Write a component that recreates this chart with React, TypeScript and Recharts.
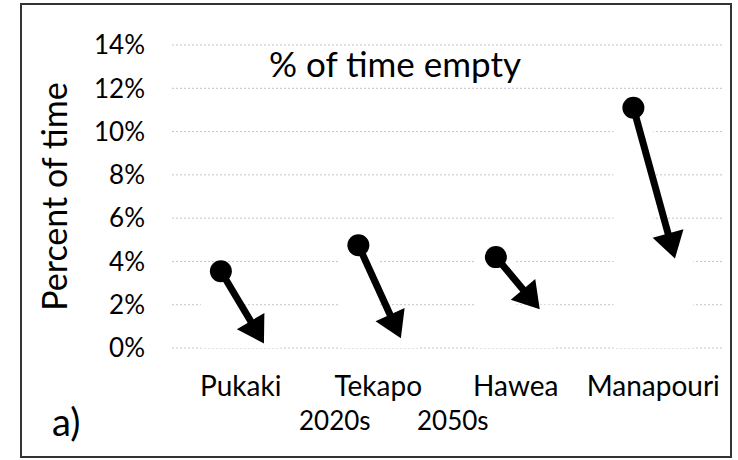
import { BarChart, Bar, XAxis, YAxis, CartesianGrid } from 'recharts'

const LAKES = ['Pukaki', 'Tekapo', 'Hawea', 'Manapouri']
const EMPTY_2020S = [3.55, 4.75, 4.2, 11.1]
const EMPTY_2050S = [0.45, 0.7, 2.0, 4.4]
const PERIODS = ['2020s', '2050s']
const Y_TICKS = [0, 2, 4, 6, 8, 10, 12, 14]

const data = LAKES.map((lake, i) => ({
  lake,
  p2020: EMPTY_2020S[i],
  p2050: EMPTY_2050S[i],
}))

const FONT = 'Lato, "Open Sans", sans-serif'
const yTickStyle = { fill: '#000', fontSize: 26, fontFamily: FONT }
const xTickStyle = { fill: '#000', fontSize: 28, fontFamily: FONT }

// white bar (masks the grid) + filled circle at the 2020s value
function StartShape(props: any) {
  const { x, y, width, height } = props
  return (
    <g>
      <rect x={x} y={y} width={width} height={height} fill="#fff" />
      <circle cx={x + width / 2} cy={y} r={11} fill="#000" />
    </g>
  )
}

// white bar + arrow from the 2020s point (neighbour bar) to the 2050s point
function EndShape(props: any) {
  const { x, y, width, height, payload } = props
  const base = y + height
  const perUnit = height / payload.p2050
  const x0 = x - width / 2
  const y0 = base - payload.p2020 * perUnit
  const x1 = x + width / 2
  const y1 = y
  const dx = x1 - x0
  const dy = y1 - y0
  const len = Math.hypot(dx, dy)
  const ux = dx / len
  const uy = dy / len
  const tipX = x1 + ux * 6
  const tipY = y1 + uy * 6
  const headLen = 26
  const half = 16
  const bx = tipX - ux * headLen
  const by = tipY - uy * headLen
  const px = -uy
  const py = ux
  return (
    <g>
      <rect x={x} y={y} width={width} height={height} fill="#fff" />
      <line x1={x0} y1={y0} x2={bx + ux * 2} y2={by + uy * 2} stroke="#000" strokeWidth={7} />
      <polygon
        points={`${tipX},${tipY} ${bx + px * half},${by + py * half} ${bx - px * half},${by - py * half}`}
        fill="#000"
      />
    </g>
  )
}

export default function App() {
  return (
    <div
      style={{
        position: 'absolute',
        left: 0,
        top: 0,
        width: 738,
        height: 460,
        background: '#fff',
        fontFamily: FONT,
        color: '#000',
      }}
    >
      <div
        style={{
          position: 'absolute',
          left: 20,
          top: 3,
          width: 712,
          height: 455,
          boxSizing: 'border-box',
          border: '2px solid #333',
        }}
      />
      <BarChart
        width={738}
        height={460}
        data={data}
        margin={{ top: 45, right: 16, bottom: 82, left: 20 }}
        barCategoryGap="21%"
        barGap={0}
      >
        <CartesianGrid vertical={false} stroke="#c4c4c4" strokeDasharray="2 2" />
        <XAxis
          dataKey="lake"
          axisLine={false}
          tickLine={false}
          tickMargin={22}
          tick={xTickStyle}
          interval={0}
        />
        <YAxis
          domain={[0, 14]}
          ticks={Y_TICKS}
          interval={0}
          width={152}
          axisLine={false}
          tickLine={false}
          tickMargin={21}
          tick={yTickStyle}
          tickFormatter={(v: number) => `${v}%`}
          label={{
            value: 'Percent of time',
            angle: -90,
            position: 'insideLeft',
            offset: 35,
            style: { textAnchor: 'middle', fontSize: 34, fill: '#000', fontFamily: FONT },
          }}
        />
        <Bar dataKey="p2020" name={PERIODS[0]} shape={StartShape} isAnimationActive={false} />
        <Bar dataKey="p2050" name={PERIODS[1]} shape={EndShape} isAnimationActive={false} />
      </BarChart>
      <div
        style={{
          position: 'absolute',
          left: 0,
          width: 790,
          top: 42,
          textAlign: 'center',
          fontSize: 35,
          lineHeight: '42px',
        }}
      >
        % of time empty
      </div>
      <div style={{ position: 'absolute', left: 52, top: 398, fontSize: 38, lineHeight: '46px' }}>
        a)
      </div>
      {PERIODS.map((p, i) => (
        <div
          key={p}
          style={{
            position: 'absolute',
            left: 299 + i * 118,
            top: 404,
            fontSize: 26,
            lineHeight: '32px',
          }}
        >
          {p}
        </div>
      ))}
    </div>
  )
}
